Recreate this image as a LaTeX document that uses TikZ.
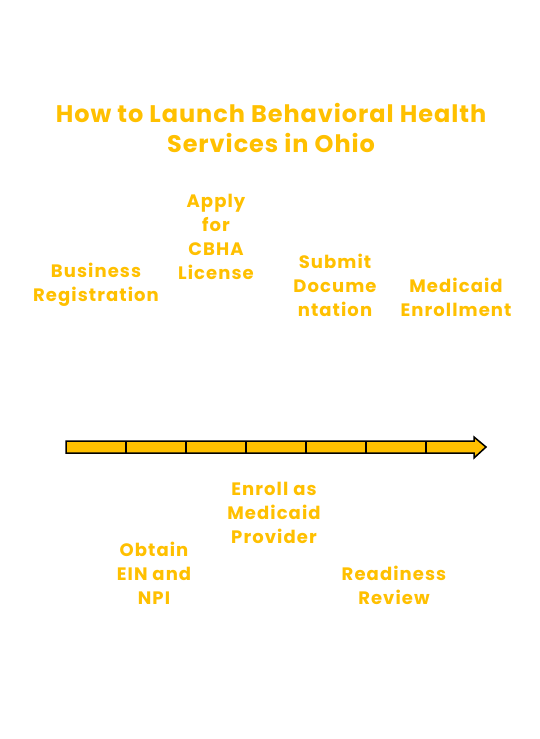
\documentclass[tikz,border=0pt]{standalone}
\usepackage{fontspec}
\setmainfont{Poppins}
\usepackage{tikz}
\usetikzlibrary{positioning}
\definecolor{gold}{RGB}{255,192,0}
\tikzset{
  step label/.style={text=gold, font=\fontsize{18}{24}\selectfont\bfseries\addfontfeatures{LetterSpace=6}, align=center, inner sep=0pt},
  title label/.style={text=gold, font=\fontsize{24}{30}\selectfont\bfseries\addfontfeatures{LetterSpace=4}, align=center, inner sep=0pt}
}

\begin{document}
\begin{tikzpicture}[x=1pt, y=-1pt]
  \useasboundingbox [fill=white] (0,0) rectangle (540,739);
  % title
  \node [title label] (title) at (271,128) {How to Launch Behavioral Health\\Services in Ohio};
  % time line
  \draw [line width=1.5pt, fill=gold] (66,441) -- (474,441) -- (474,437) -- (486,447)
     -- (474,458) -- (474,453) -- (66,453) -- cycle;
  \foreach \x in {126,186,...,426}
    \draw [line width=1.5pt] (\x,441) -- (\x,453);
  % steps above
  \node [step label] (reg) at (96,285) {Business\\Registration};
  \node [step label] (cbha) at (216,237) {Apply\\for\\CBHA\\License};
  \node [step label] (docs) at (335,285) {Submit\\Docume\\ntation};
  \node [step label] (enrol) at (456,297) {Medicaid\\Enrollment};
  % steps below
  \node [step label] (ein) at (154,573) {Obtain\\EIN and\\NPI};
  \node [step label] (prov) at (274,513) {Enroll as\\Medicaid\\Provider};
  \node [step label] (ready) at (394,585) {Readiness\\Review};
\end{tikzpicture}
\end{document}
